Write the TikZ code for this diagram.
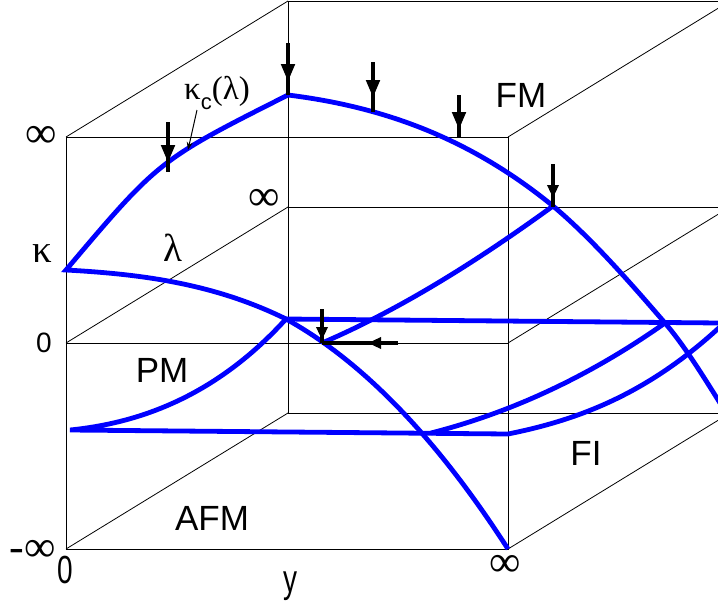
\documentclass[tikz,border=0pt]{standalone}
\usepackage{fontspec}
\setmainfont{Liberation Sans}
\newfontfamily\symfont{Liberation Serif}
\usepackage{graphicx}
\usetikzlibrary{positioning, arrows.meta}
\definecolor{Phase}{HTML}{0000FF}
\tikzset{
    axisline/.style={black, line width=0.8pt},
    phaseline/.style={Phase, line width=4.8pt},
    shaft/.style={black, line width=4.5pt},
    bighead/.style={-{Triangle[length=18pt, width=13pt]}, black, line width=4.5pt},
    smallhead/.style={-{Triangle[length=13pt, width=11pt]}, black, line width=4.5pt},
}

\begin{document}
\begin{tikzpicture}[
        x=1pt, y=-1pt,
        % phase names
        region/.style={inner sep=0pt, font=\fontsize{35}{35}\selectfont},
        % axis ticks
        tick/.style={inner sep=0pt, font=\fontsize{28}{28}\selectfont},
        % greek letters and infinity
        sym/.style={inner sep=0pt, font=\symfont\fontsize{39}{39}\selectfont},
        infty/.style={inner sep=0pt, font=\symfont\fontsize{44}{44}\selectfont}
    ]
        \useasboundingbox (0,0) rectangle (718,603);
        \clip (0,0) rectangle (718,603);

        % 1. Box corners
        \coordinate (ftl) at (66,137);
        \coordinate (fzl) at (66,343);
        \coordinate (fbl) at (66,549);
        \coordinate (ftr) at (508,137);
        \coordinate (fzr) at (508,343);
        \coordinate (fbr) at (508,549);
        \coordinate (btl) at (288,1);
        \coordinate (bzl) at (288,207);
        \coordinate (bbl) at (288,413);
        \coordinate (btr) at (730,1);
        \coordinate (bzr) at (730,207);
        \coordinate (bbr) at (730,413);

        \draw[axisline] (ftl) -- (ftr) -- (fbr) -- (fbl) -- cycle;
        \draw[axisline] (fzl) -- (fzr);
        \draw[axisline] (btl) -- (btr);
        \draw[axisline] (bzl) -- (bzr);
        \draw[axisline] (bbl) -- (bbr);
        \draw[axisline] (btl) -- (bbl);
        \draw[axisline] (ftl) -- (btl);
        \draw[axisline] (fzl) -- (bzl);
        \draw[axisline] (fbl) -- (bbl);
        \draw[axisline] (ftr) -- (btr);
        \draw[axisline] (fzr) -- (bzr);
        \draw[axisline] (fbr) -- (bbr);

        % --- 2. Phase boundaries ---
        \coordinate (K0) at (66,270);
        \coordinate (Kpk) at (288,95);
        \coordinate (Kr) at (553,206);
        \coordinate (Kx) at (665,323);
        \coordinate (Kend) at (720,403);
        \coordinate (J1) at (286,319);
        \coordinate (Jm) at (322,343);
        \coordinate (Kb) at (508,549);
        \coordinate (L0) at (70,430);
        \coordinate (Lk) at (508,434);
        \coordinate (Lx) at (431,433);
        \coordinate (Lend) at (722,325);
        \coordinate (Dend) at (720,323);

        % kappa_c(lambda) and the line down to y = infinity
        \draw[phaseline] (Kb) .. controls (434,434) and (360,360) .. (J1)
            .. controls (213,283) and (139,274) .. (K0)
            .. controls (159,160) .. (Kpk)
            .. controls (376,106) and (465,134) .. (Kr)
            .. controls (590,237) and (628,280) .. (Kx)
            .. controls (683,344) and (700,371) .. (Kend);
        \draw[phaseline] (J1) -- (Dend);
        \draw[phaseline] (J1) .. controls (216,396) and (140,423) .. (L0)
            -- (Lk) .. controls (578,420) and (648,394) .. (Lend);
        \draw[phaseline] (Jm) .. controls (399,310) and (476,262) .. (Kr);
        \draw[phaseline] (Lx) .. controls (509,413) and (587,378) .. (Kx);

        % --- 3. Flow arrows ---
        \coordinate (a1) at (288,43);  \coordinate (a1tip) at (288,82);  \coordinate (a1end) at (288,95);
        \coordinate (a2) at (168,122); \coordinate (a2tip) at (168,163); \coordinate (a2end) at (168,172);
        \coordinate (a3) at (373,62);  \coordinate (a3tip) at (373,98);  \coordinate (a3end) at (373,112);
        \coordinate (a4) at (459,95);  \coordinate (a4tip) at (459,130); \coordinate (a4end) at (459,138);
        \coordinate (a5) at (553,164); \coordinate (a5tip) at (553,198); \coordinate (a5end) at (553,207);
        \coordinate (a6) at (322,309); \coordinate (a6tip) at (322,340);
        \coordinate (a7) at (398,343); \coordinate (a7tip) at (368,343);

        \draw[shaft] (a1) -- (a1end);  \draw[bighead] (a1) -- (a1tip);
        \draw[shaft] (a2) -- (a2end);  \draw[bighead] (a2) -- (a2tip);
        \draw[shaft] (a3) -- (a3end);  \draw[bighead] (a3) -- (a3tip);
        \draw[shaft] (a4) -- (a4end);  \draw[bighead] (a4) -- (a4tip);
        \draw[shaft] (a5) -- (a5end);  \draw[smallhead] (a5) -- (a5tip);
        \draw[shaft] (a6) -- (Jm);     \draw[smallhead] (a6) -- (a6tip);
        \draw[shaft] (a7) -- (Jm);     \draw[smallhead] (a7) -- (a7tip);

        % --- 4. Labels ---
        \node[infty, left=9pt of ftl] (inftop) {∞};
        \node[sym] (kappa) at (42,254) {κ};
        \node[tick, left=14pt of fzl] (zerol) {0};
        \node[infty] (minf) at (33,551) {-∞};
        \node[tick] (zerob) at (65,570) {\scalebox{1}[1.4]{0}};
        \node[tick] (yaxis) at (290,586) {\scalebox{1}[1.4]{y}};
        \node[infty] (infy) at (505,566) {∞};
        \node[infty] (inflam) at (264,200) {∞};
        \node[sym] (lambda) at (173,248) {λ};
        \node[sym, anchor=base west, font=\symfont\fontsize{33}{33}\selectfont] (kc) at (184,99)
            {κ\raisebox{-10pt}{\fontsize{22}{22}\selectfont\rmfamily c}(λ)};
        \coordinate (kctip) at (188,150);
        \draw[black, line width=1pt, -{Stealth[length=8pt, width=6pt]}] (197,110) -- (kctip);

        \node[region] (fm) at (521,95) {FM};
        \node[region] (pm) at (162,370) {PM};
        \node[region] (afm) at (212,518) {AFM};
        \node[region] (fi) at (586,453) {FI};

    \end{tikzpicture}
\end{document}
